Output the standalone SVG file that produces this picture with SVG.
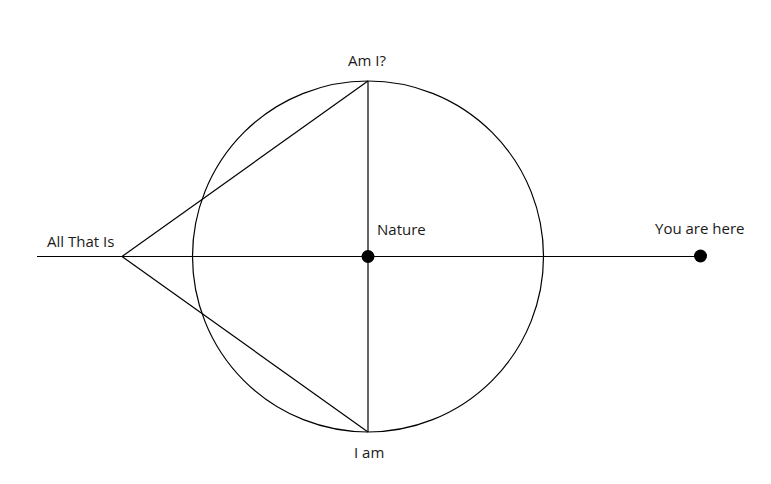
<svg xmlns="http://www.w3.org/2000/svg" width="771" height="484" viewBox="0 0 771 484">
<style>
.l{fill:none;stroke:#000;stroke-width:1.2}
.d{fill:#000}
text{font-family:"Open Sans","Liberation Sans",sans-serif;font-size:15px;fill:#1a1a1a}
</style>
<rect width="771" height="484" fill="#fff"/>
<g id="connectors">
<circle class="l" cx="368" cy="256.5" r="175.5"/>
<line class="l" x1="37" y1="256.5" x2="700" y2="256.5"/>
<line class="l" x1="368" y1="81" x2="368" y2="432"/>
<line class="l" x1="122" y1="256.5" x2="368" y2="81"/>
<line class="l" x1="122" y1="256.5" x2="368" y2="432"/>
</g>
<g id="all-that-is"><text x="47" y="247">All That Is</text></g>
<g id="am-i"><text x="348" y="66">Am I?</text></g>
<g id="nature"><circle class="d" cx="368" cy="256.5" r="6.5"/><text x="377" y="235">Nature</text></g>
<g id="you-are-here"><circle class="d" cx="700.5" cy="256" r="6.5"/><text x="655" y="234">You are here</text></g>
<g id="i-am"><text x="354" y="458">I am</text></g>
</svg>
